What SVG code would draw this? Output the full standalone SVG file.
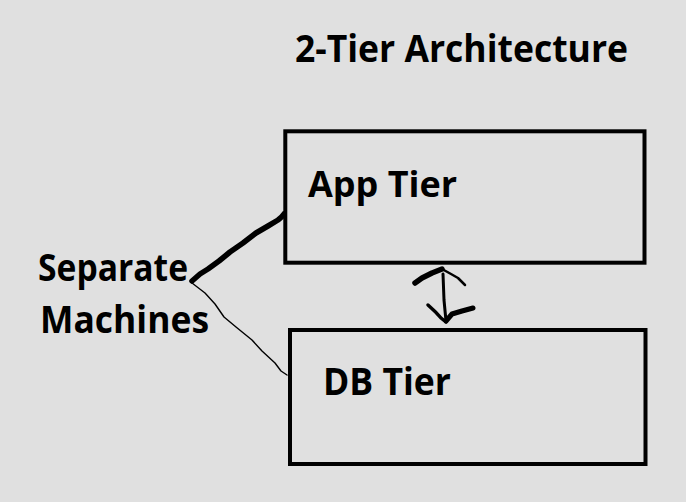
<svg xmlns="http://www.w3.org/2000/svg" width="686" height="502" viewBox="0 0 686 502">
<style>
.t{font-family:"Open Sans","Liberation Sans",sans-serif;font-weight:bold;fill:#000}
.box{fill:none;stroke:#000;stroke-width:4}
.ink{fill:none;stroke:#000;stroke-linecap:round;stroke-linejoin:round}
</style>
<rect x="0" y="0" width="686" height="502" fill="#e0e0e0"/>
<g id="title">
<text class="t" x="295" y="62" font-size="38" textLength="333" lengthAdjust="spacingAndGlyphs">2-Tier Architecture</text>
</g>
<g id="app-tier">
<rect class="box" x="285.3" y="131.3" width="359.2" height="131.4"/>
<text class="t" x="308" y="197" font-size="36" textLength="149" lengthAdjust="spacingAndGlyphs">App Tier</text>
</g>
<g id="db-tier">
<rect class="box" x="290" y="330" width="355.5" height="134"/>
<text class="t" x="323" y="395" font-size="37" textLength="128" lengthAdjust="spacingAndGlyphs">DB Tier</text>
</g>
<g id="separate-machines">
<text class="t" x="38" y="281" font-size="37" textLength="150" lengthAdjust="spacingAndGlyphs">Separate</text>
<text class="t" x="40" y="333" font-size="37" textLength="169" lengthAdjust="spacingAndGlyphs">Machines</text>
</g>
<g id="connectors">
<path class="ink" stroke-width="5.5" d="M192,281 L200,274 L208,269 L219,261 L230,252 L243,243 L256,233 L268,226 L278,220 Q282,217 284,214"/>
<path class="ink" stroke-width="1.4" d="M192,283 L205,293 L215,304 L224,317 L236,327 L252,340 L262,351 L275,363 L281,371 L287,375"/>
<path class="ink" stroke-width="5.5" d="M415,283 L422,278 L432,273 L442,269"/>
<path class="ink" stroke-width="2.5" d="M442,269 L451,274 L458,278 L465,285"/>
<path class="ink" stroke-width="3" d="M443,274 L444,300 L446,321"/>
<path class="ink" stroke-width="3.5" d="M428,305 Q436,312 441,318 L446,322"/>
<path class="ink" stroke-width="5" d="M446,321 L452,314 L462,311 L473,308"/>
</g>
</svg>
